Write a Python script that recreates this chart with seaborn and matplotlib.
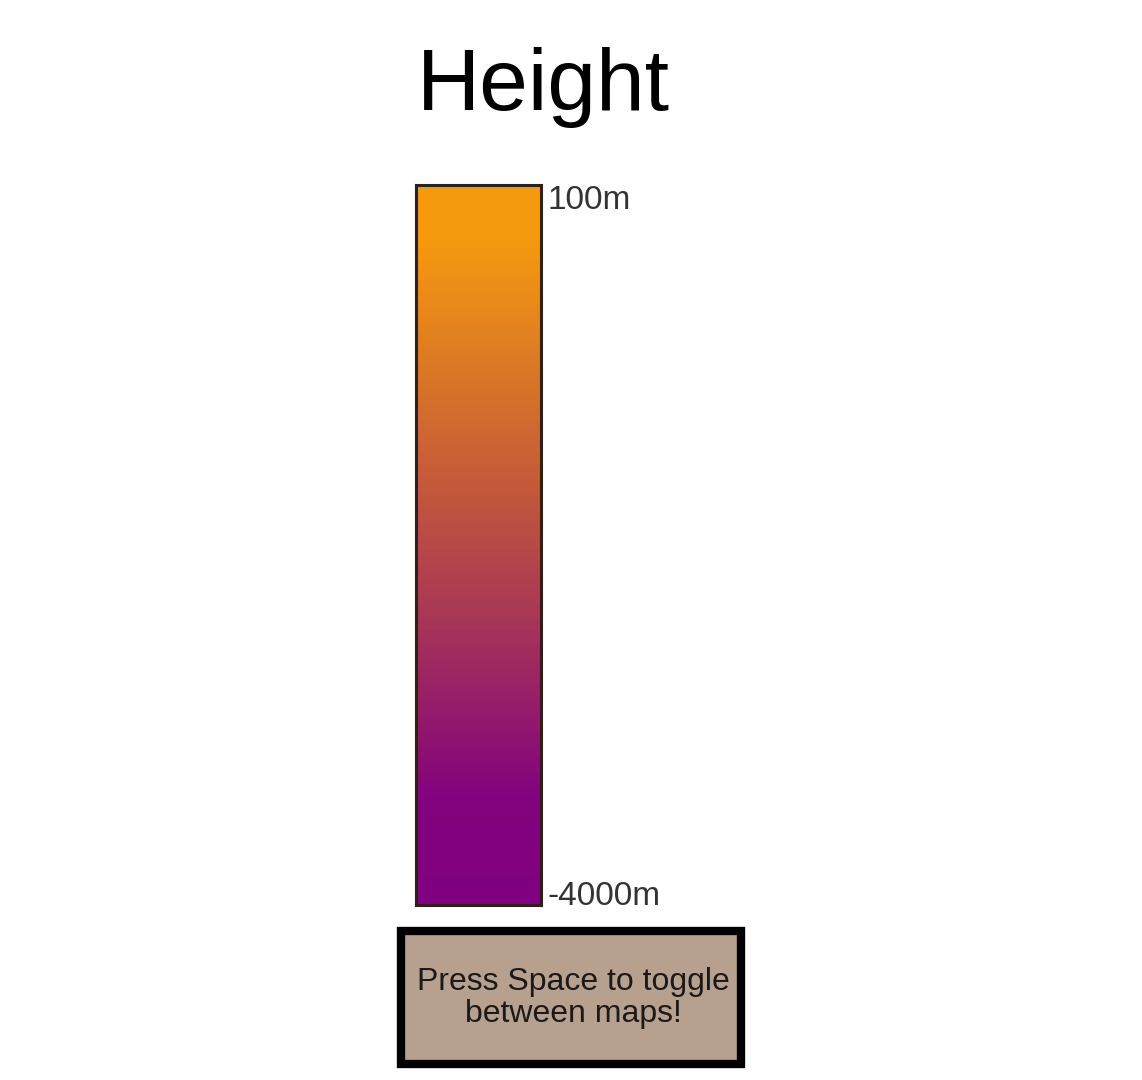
import numpy as np
import pandas as pd
import matplotlib.pyplot as plt
import seaborn as sns
from matplotlib.colors import LinearSegmentedColormap
from matplotlib.patches import FancyBboxPatch

sns.set_style("white")
plt.rcParams['font.family'] = ['Liberation Sans', 'DejaVu Sans']

# legend data
title = "Height"
height_top = 100
height_bottom = -4000
tick_labels = ["100m", "-4000m"]
stop_positions = [0.0, 0.15, 0.4, 0.6, 0.93, 1.0]
stop_colors = ["#800080", "#82037e", "#a83656", "#c65c38", "#f59a0e", "#f59a0e"]
button_text = "Press Space to toggle\nbetween maps!"

# column of heights, top row = highest
levels = np.linspace(height_top, height_bottom, 400)
df = pd.DataFrame({"h": levels})

cmap = LinearSegmentedColormap.from_list("height", list(zip(stop_positions, stop_colors)))

fig = plt.figure(figsize=(11.42, 10.8), dpi=100)
W, H = 1142, 1080

ax = fig.add_axes([416 / W, (H - 905) / H, 125 / W, 720 / H])
sns.heatmap(df, ax=ax, cmap=cmap, vmin=height_bottom, vmax=height_top,
            cbar=False, xticklabels=False, yticklabels=False)
for s in ax.spines.values():
    s.set_visible(True)
    s.set_color("#2e2018")
    s.set_linewidth(2.2)

ax.text(1.05, 1.0, tick_labels[0], transform=ax.transAxes, ha="left", va="top",
        fontsize=24, color="#333333")
ax.text(1.05, -0.01, tick_labels[1], transform=ax.transAxes, ha="left", va="bottom",
        fontsize=24, color="#333333")

fig.text(543 / W, 1 - 88 / H, title, ha="center", va="center", fontsize=63, color="black")

# toggle button
box = FancyBboxPatch((401 / W, (H - 1064) / H), 340 / W, 133 / H,
                     boxstyle="square,pad=0", transform=fig.transFigure,
                     facecolor="#b8a08f", edgecolor="black", linewidth=6)
fig.patches.append(box)
fig.text(573 / W, 1 - 998 / H, button_text, ha="center", va="center",
         fontsize=23, color="#1a1a1a", linespacing=1.12)

fig.savefig("out.png", dpi=100, facecolor="white")
